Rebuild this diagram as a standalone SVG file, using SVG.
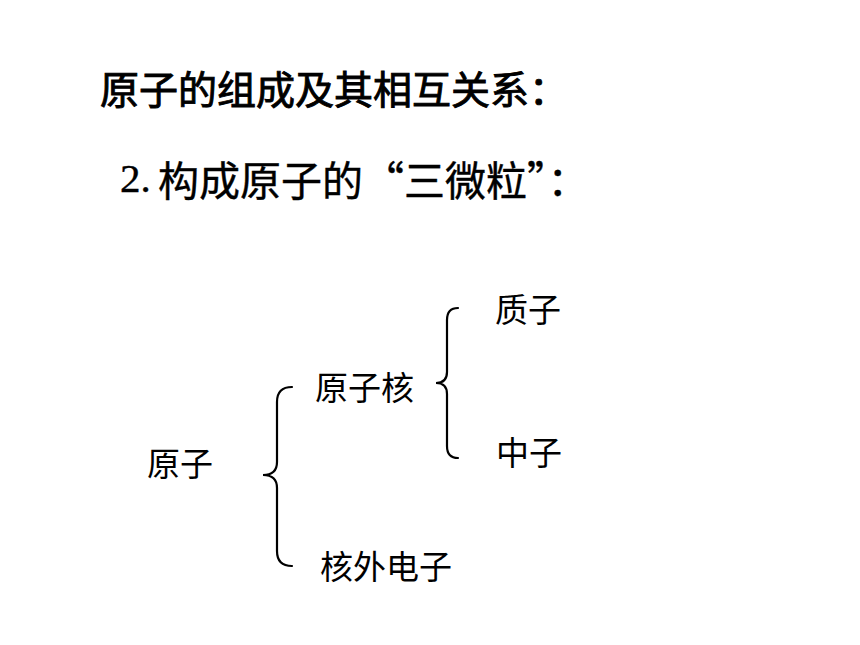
<svg xmlns="http://www.w3.org/2000/svg" width="860" height="645" viewBox="0 0 860 645">
<style>
text{font-family:"Noto Sans CJK SC",sans-serif;fill:#000;dominant-baseline:central}
.t{font-size:39px;stroke:#000;stroke-width:0.9}
.s{font-size:41px;stroke:#000;stroke-width:0.4}
.n{font-family:"Liberation Serif",serif}
.l{font-size:33px}
.brace{fill:none;stroke:#000;stroke-width:2.2;stroke-linecap:round}
</style>
<rect width="860" height="645" fill="#fff"/>
<g id="title">
<text class="t" x="100" y="87" lang="zh-CN">原子的组成及其相互关系：</text>
<text class="s n" x="120" y="178">2.</text>
<text class="s" x="158" y="178" lang="zh-CN">构成原子的“三微粒”：</text>
</g>
<g id="atom"><text class="l" x="147" y="462">原子</text></g>
<g id="nucleus"><text class="l" x="315" y="386">原子核</text></g>
<g id="electrons"><text class="l" x="320" y="565">核外电子</text></g>
<g id="proton"><text class="l" x="495" y="308">质子</text></g>
<g id="neutron"><text class="l" x="496" y="451">中子</text></g>
<g id="connectors">
<path class="brace" d="M292,387 Q277,387 277,402 L277,462 Q277,475 263,475 Q277,475 277,488 L277,551 Q277,566 292,566"/>
<path class="brace" d="M458,308 Q447,308 447,320 L447,372 Q447,383 436,383 Q447,383 447,394 L447,446 Q447,458 458,458"/>
</g>
</svg>
